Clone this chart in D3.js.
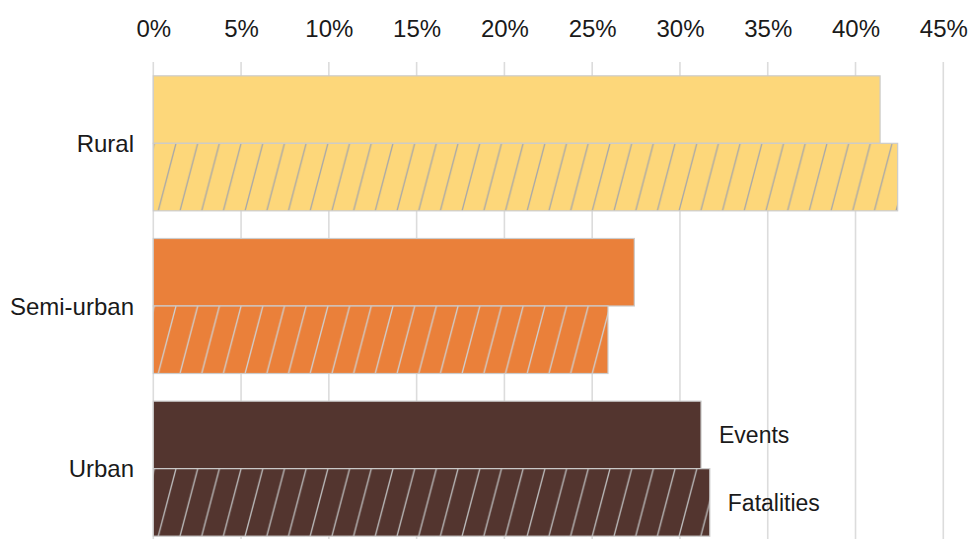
<!DOCTYPE html>
<html><head><meta charset="utf-8">
<script src="https://cdn.jsdelivr.net/npm/d3@7"></script>
<style>body{margin:0;background:#fff}svg{display:block}text{font-family:"Liberation Sans",Arial,sans-serif;fill:#1a1a1a}</style>
</head><body><svg id="c" width="974" height="539"></svg>
<script>
const categories = ["Rural", "Semi-urban", "Urban"];
const events = [41.4, 27.4, 31.2];
const fatalities = [42.4, 25.9, 31.7];
const colors = ["#FDD77A", "#EA803A", "#53352F"];
const hatchColors = ["#a8a8a8", "#cfcfcf", "#bdbdbd"];
const tickValues = [0, 5, 10, 15, 20, 25, 30, 35, 40, 45];
const seriesLabels = ["Events", "Fatalities"];

const svg = d3.select("#c");
const x = d3.scaleLinear().domain([0, 45]).range([153.3, 943.3]);
const y = d3.scaleBand().domain(categories).range([62, 550]).paddingInner(0.17).paddingOuter(0.085);
const sub = d3.scaleBand().domain(seriesLabels).range([0, y.bandwidth()]);

// grid
svg.append("g").selectAll("line").data(tickValues).join("line")
  .attr("x1", d => x(d)).attr("x2", d => x(d)).attr("y1", 62).attr("y2", 539)
  .attr("stroke", "#dcdcdc").attr("stroke-width", 1.6);

// axis
const axis = d3.axisTop(x).tickValues(tickValues).tickFormat(d => d + "%").tickSize(0).tickPadding(0);
const ag = svg.append("g").attr("transform", "translate(0,36.5)").call(axis);
ag.select(".domain").remove();
ag.selectAll("text").attr("font-size", 24).attr("dy", 0).style("font-family", '"Liberation Sans",Arial,sans-serif').attr("fill", "#1a1a1a");

const defs = svg.append("defs");
const hatchW = 21.7, slant = 17.7;

categories.forEach((c, i) => {
  const g = svg.append("g");
  const y0 = y(c);
  const h = sub.bandwidth();
  // events bar
  g.append("rect").attr("x", x(0)).attr("y", y0 + sub("Events"))
    .attr("width", x(events[i]) - x(0)).attr("height", h)
    .attr("fill", colors[i]).attr("stroke", "#cccccc").attr("stroke-width", 1.2);
  // fatalities hatched
  const fy = y0 + sub("Fatalities");
  const pid = "hatch" + i;
  const p = defs.append("pattern").attr("id", pid).attr("patternUnits", "userSpaceOnUse")
    .attr("x", x(0)).attr("y", fy).attr("width", hatchW).attr("height", h);
  p.append("rect").attr("width", hatchW).attr("height", h).attr("fill", colors[i]);
  [-hatchW, 0, hatchW].forEach(o => {
    p.append("line").attr("x1", 5 + o).attr("y1", h).attr("x2", 5 + slant + o).attr("y2", 0)
      .attr("stroke", hatchColors[i]).attr("stroke-width", 1.3);
  });
  g.append("rect").attr("x", x(0)).attr("y", fy)
    .attr("width", x(fatalities[i]) - x(0)).attr("height", h)
    .attr("fill", `url(#${pid})`).attr("stroke", "#cccccc").attr("stroke-width", 1.2);
  // category label
  svg.append("text").attr("x", 134).attr("y", y0 + y.bandwidth() / 2 + 8.5)
    .attr("text-anchor", "end").attr("font-size", 24).text(c);
});

// series labels on last group
const last = categories[categories.length - 1];
[events, fatalities].forEach((arr, k) => {
  const n = seriesLabels[k];
  svg.append("text").attr("x", x(arr[arr.length - 1]) + 18)
    .attr("y", y(last) + sub(n) + sub.bandwidth() / 2 + 8.5)
    .attr("font-size", 23).text(n);
});
</script></body></html>
